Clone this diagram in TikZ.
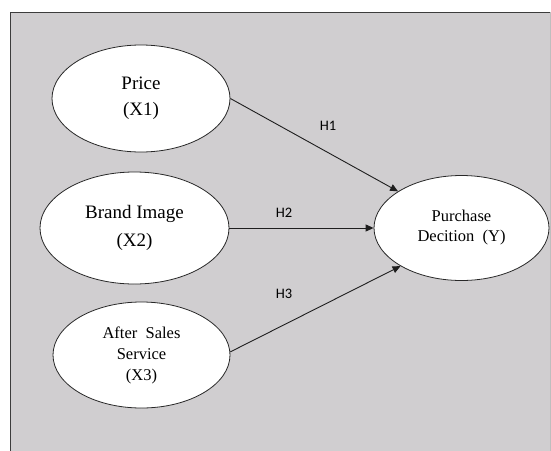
\documentclass[tikz,border=0pt]{standalone}
\usepackage{fontspec}
\setmainfont{Liberation Serif}
\newfontfamily\labfont{Carlito}
\usetikzlibrary{shapes.geometric,arrows.meta}

\begin{document}
\begin{tikzpicture}[x=1pt,y=1pt,yscale=-1,xscale=1,
  varbox/.style={ellipse,draw={rgb,255:red,40;green,40;blue,40},line width=0.8pt,fill=white,inner sep=0pt,align=center},
  hyparrow/.style={draw={rgb,255:red,30;green,30;blue,30},line width=0.9pt,-{Triangle[length=8pt,width=7pt]}},
  hyplabel/.style={inner sep=0pt,font=\labfont\fontsize{14.5}{16}\selectfont}]
\useasboundingbox (0,0) rectangle (551,450);

%Shape: Rectangle (background)
\fill [fill={rgb, 255:red, 208; green, 206; blue, 208 }] (10,12) rectangle (550,460);
\draw [draw={rgb, 255:red, 60; green, 60; blue, 60 }, line width=1pt] (10,460) -- (10,12) -- (550,12);
\draw [draw={rgb, 255:red, 190; green, 190; blue, 190 }, line width=1pt] (550,12) -- (550,460);

%Shape: Ellipse (X1)
\node [varbox,minimum width=178pt,minimum height=107pt,font=\fontsize{19}{26}\selectfont] (price) at (141,98.5) {Price\\(X1)};
%Shape: Ellipse (X2)
\node [varbox,minimum width=189pt,minimum height=112pt,font=\fontsize{19}{28}\selectfont] (brand) at (134.5,228) {Brand Image\\(X2)};
%Shape: Ellipse (X3)
\node [varbox,minimum width=177pt,minimum height=106pt,font=\fontsize{16.5}{21}\selectfont] (service) at (141.5,355) {After~~Sales\\Service\\(X3)};
%Shape: Ellipse (Y)
\node [varbox,minimum width=175pt,minimum height=105pt,font=\fontsize{16.5}{20}\selectfont] (purchase) at (461.5,228) {Purchase\\Decition~~(Y)};

%Straight Lines
\draw [hyparrow] (price.east) -- (purchase.150);
\draw [hyparrow] (brand.east) -- (purchase.west);
\draw [hyparrow] (service.2) -- (purchase.212);

% Text Node
\node [hyplabel] (h1lab) at (328,126) {H1};
% Text Node
\node [hyplabel] (h2lab) at (284,213) {H2};
% Text Node
\node [hyplabel] (h3lab) at (284,294) {H3};

\end{tikzpicture}
\end{document}
